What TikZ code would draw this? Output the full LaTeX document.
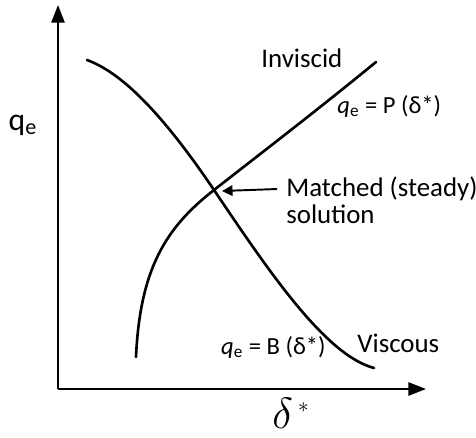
\documentclass[tikz,border=0pt]{standalone}
\usepackage{fontspec}
\setmainfont{Carlito}
\usetikzlibrary{arrows.meta,positioning}
\begin{document}
\begin{tikzpicture}[x=0.02cm, y=-0.02cm,
    axis/.style={line width=1.1pt, -{Triangle[length=10pt, width=7.5pt]}},
    curve/.style={line width=1.5pt, line cap=round},
    lbl/.style={anchor=west, inner sep=0pt, font=\fontsize{15.3}{18}\selectfont}]
    \useasboundingbox (0,0) rectangle (476,437);
    % axes
    \coordinate (o) at (58,389);
    \coordinate (ytop) at (58,5);
    \coordinate (xend) at (426,389);
    \draw[axis] (o) -- (ytop);
    \draw[axis] (o) -- (xend);
    \node[font=\fontsize{18}{20}\selectfont] (qe) at (23,125) {q\textsubscript{e}};
    \node[font=\fontsize{24}{26}\selectfont] (delta) at (291,413) {$\delta^{\,\scriptscriptstyle *}$};
    % viscous and inviscid curves
    \draw[curve] (87,60) .. controls (120,72) and (160,110) .. (214,190)
        .. controls (268,270) and (325,355) .. (374,368);
    \draw[curve] (136,357) .. controls (140,270) and (165,228) .. (214,190)
        .. controls (260,154) and (320,108) .. (376,62);
    \coordinate (cross) at (222,191);
    % labels
    \node[lbl] (inv) at (261,58) {Inviscid};
    \node[lbl, font=\fontsize{14}{17}\selectfont] (pdelta) at (337,106) {{\itshape q}\textsubscript{e} = P (δ*)};
    \node[lbl] (matched) at (286,189) {Matched (steady)};
    \node[lbl, below=14.5pt of matched.west, anchor=west] (sol) {solution};
    \node[lbl, anchor=east, font=\fontsize{14}{17}\selectfont] (bdelta) at (326,347) {{\itshape q}\textsubscript{e} = B (δ*)};
    \node[lbl] (visc) at (357,343) {Viscous};
    \draw[line width=1.1pt, -{Triangle[length=6pt, width=6pt]}] ([xshift=-5pt]matched.west) -- (cross);
\end{tikzpicture}
\end{document}
